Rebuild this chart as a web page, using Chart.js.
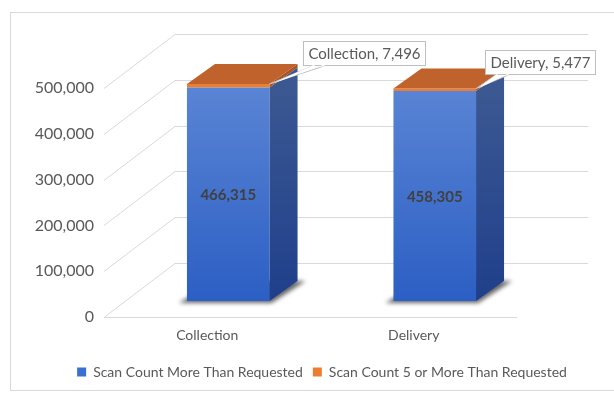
<!DOCTYPE html>
<html>
<head>
<meta charset="utf-8">
<script src="https://cdn.jsdelivr.net/npm/chart.js@4.4.1/dist/chart.umd.min.js"></script>
<style>
  html, body { margin: 0; padding: 0; background: #fff; }
  #wrap { width: 614px; height: 393px; }
</style>
</head>
<body>
<div id="wrap"><canvas id="scans"></canvas></div>
<script>
const categories = ['Collection', 'Delivery'];
const moreThanRequested = [466315, 458305];
const fiveOrMoreThanRequested = [7496, 5477];
const yTicks = [0, 100000, 200000, 300000, 400000, 500000];
const seriesNames = ['Scan Count More Than Requested', 'Scan Count 5 or More Than Requested'];

// fake 3d: how far back the walls go, where the bars sit in depth
const wallDepth = { x: 71, y: -54 };
const barShift = { x: 21, y: -16 };
const barDepth = { x: 28, y: -20 };
// callout boxes, relative to the top right corner of each bar
const calloutSpots = [{ dx: 33, dy: -43, a: 10, b: 22 }, { dx: 9, dy: -39, a: 11, b: 24 }];

const gray = '#595959';
const fmt = v => v.toLocaleString('en-US');

Chart.defaults.font.family = 'Lato';
Chart.defaults.font.size = 14;
Chart.defaults.color = gray;

const boxes3d = {
  id: 'boxes3d',
  beforeDraw(chart) {
    const ctx = chart.ctx;
    ctx.save();
    ctx.strokeStyle = '#d9d9d9';
    ctx.lineWidth = 1;
    ctx.strokeRect(10.5, 12.5, 700, 378);
    ctx.restore();
  },
  beforeDatasetsDraw(chart) {
    const { ctx, chartArea: area, scales: { y } } = chart;
    ctx.save();
    ctx.strokeStyle = '#d9d9d9';
    ctx.lineWidth = 1;
    yTicks.forEach(v => {
      const py = Math.round(y.getPixelForValue(v)) + 0.5;
      ctx.beginPath();
      ctx.moveTo(area.left, py);
      ctx.lineTo(area.left + wallDepth.x, py + wallDepth.y);
      ctx.lineTo(area.right + wallDepth.x, py + wallDepth.y);
      ctx.stroke();
    });
    const floor = Math.round(y.getPixelForValue(0)) + 0.5;
    ctx.beginPath();
    ctx.moveTo(area.left, floor);
    ctx.lineTo(area.right, floor);
    ctx.stroke();
    ctx.restore();

    // everything bar-related is drawn shifted back into the box
    ctx.save();
    ctx.translate(barShift.x, barShift.y);
    chart.getDatasetMeta(0).data.forEach(bar => {
      const l = bar.x - bar.width / 2, r = bar.x + bar.width / 2, b = bar.base;
      ctx.save();
      ctx.filter = 'blur(2px)';
      ctx.fillStyle = 'rgba(0,0,0,0.6)';
      ctx.beginPath();
      ctx.moveTo(l - 8, b + 2);
      ctx.lineTo(r + 2, b + 2);
      ctx.lineTo(r + barDepth.x + 8, b + barDepth.y);
      ctx.lineTo(l + barDepth.x, b + barDepth.y);
      ctx.closePath();
      ctx.fill();
      ctx.restore();
    });
  },
  afterDatasetsDraw(chart) {
    const ctx = chart.ctx;
    const blue = chart.getDatasetMeta(0).data;
    const orange = chart.getDatasetMeta(1).data;

    const side = (bar, fill) => {
      const r = bar.x + bar.width / 2;
      ctx.beginPath();
      ctx.moveTo(r, bar.y);
      ctx.lineTo(r + barDepth.x, bar.y + barDepth.y);
      ctx.lineTo(r + barDepth.x, bar.base + barDepth.y);
      ctx.lineTo(r, bar.base);
      ctx.closePath();
      ctx.fillStyle = fill;
      ctx.fill();
    };
    blue.forEach(bar => {
      const g = ctx.createLinearGradient(0, bar.y, 0, bar.base);
      g.addColorStop(0, '#3b5892');
      g.addColorStop(1, '#1f3f8b');
      side(bar, g);
    });
    orange.forEach(bar => side(bar, '#a9531f'));

    orange.forEach(bar => {
      const l = bar.x - bar.width / 2, r = bar.x + bar.width / 2;
      ctx.beginPath();
      ctx.moveTo(l, bar.y);
      ctx.lineTo(l + barDepth.x, bar.y + barDepth.y);
      ctx.lineTo(r + barDepth.x, bar.y + barDepth.y);
      ctx.lineTo(r, bar.y);
      ctx.closePath();
      ctx.fillStyle = '#c0622c';
      ctx.fill();
    });

    ctx.font = 'bold 15px Lato';
    ctx.textAlign = 'center';
    ctx.textBaseline = 'middle';
    ctx.fillStyle = '#404040';
    blue.forEach((bar, i) => ctx.fillText(fmt(moreThanRequested[i]), bar.x, (bar.y + bar.base) / 2 + 1));
    ctx.restore();

    // callouts for the thin orange slices
    ctx.save();
    ctx.font = '15px Lato';
    ctx.textAlign = 'center';
    ctx.textBaseline = 'middle';
    ctx.lineWidth = 1;
    orange.forEach((bar, i) => {
      const ax = bar.x + bar.width / 2 + barShift.x;
      const ay = bar.y + barShift.y;
      const spot = calloutSpots[i];
      const label = categories[i] + ', ' + fmt(fiveOrMoreThanRequested[i]);
      const w = Math.round(ctx.measureText(label).width) + 10;
      const h = 24;
      const bx = Math.round(ax + spot.dx) + 0.5;
      const by = Math.round(ay + spot.dy) + 0.5;
      const bb = by + h;

      ctx.fillStyle = '#fff';
      ctx.strokeStyle = '#bfbfbf';
      ctx.beginPath();
      ctx.moveTo(bx + spot.a, bb);
      ctx.lineTo(ax, ay);
      ctx.lineTo(bx + spot.b, bb);
      ctx.fill();
      ctx.stroke();
      ctx.fillRect(bx, by, w, h);
      ctx.strokeRect(bx, by, w, h);
      ctx.beginPath();
      ctx.moveTo(bx + spot.a + 1, bb - 1);
      ctx.lineTo(ax + 2, ay);
      ctx.lineTo(bx + spot.b - 1, bb - 1);
      ctx.lineTo(bx + spot.b - 1, bb + 1);
      ctx.lineTo(bx + spot.a + 1, bb + 1);
      ctx.fill();

      ctx.fillStyle = gray;
      ctx.fillText(label, bx + w / 2, by + h / 2 + 1);
    });
    ctx.restore();
  }
};

const scansChart = new Chart(document.getElementById('scans'), {
  type: 'bar',
  data: {
    labels: categories,
    datasets: [{
      label: seriesNames[0],
      data: moreThanRequested,
      backgroundColor: c => {
        const a = c.chart.chartArea;
        if (!a) return '#3a6fd4';
        const g = c.chart.ctx.createLinearGradient(0, a.top, 0, a.bottom);
        g.addColorStop(0, '#5d87d6');
        g.addColorStop(1, '#2c5fc4');
        return g;
      },
      categoryPercentage: 0.8,
      barPercentage: 0.5,
      clip: false
    }, {
      label: seriesNames[1],
      data: fiveOrMoreThanRequested,
      backgroundColor: '#ed7d31',
      categoryPercentage: 0.8,
      barPercentage: 0.5,
      clip: false
    }]
  },
  options: {
    responsive: true,
    maintainAspectRatio: false,
    animation: false,
    layout: { padding: { top: 88, left: 30, right: 0, bottom: 4 } },
    scales: {
      x: {
        stacked: true,
        grid: { display: false, drawTicks: false },
        border: { display: false },
        ticks: { color: gray, padding: 10 },
        afterFit: s => { s.height = 38; }
      },
      y: {
        stacked: true,
        min: 0,
        max: 500000,
        grid: { display: false, drawTicks: false },
        border: { display: false },
        ticks: { stepSize: 100000, color: gray, padding: 10, font: { size: 16 }, callback: v => fmt(v) },
        afterFit: s => { s.width = 74; }
      },
      side: {
        position: 'right',
        grid: { display: false },
        border: { display: false },
        ticks: { display: false },
        afterFit: s => { s.width = 97; }
      }
    },
    plugins: {
      tooltip: { enabled: false },
      legend: {
        position: 'bottom',
        labels: {
          boxWidth: 9,
          boxHeight: 9,
          padding: 10,
          generateLabels: () => seriesNames.map((t, i) => ({
            text: t,
            fillStyle: ['#3a6fd4', '#ed7d31'][i],
            strokeStyle: 'transparent',
            lineWidth: 0,
            fontColor: gray,
            datasetIndex: i
          }))
        }
      }
    }
  },
  plugins: [boxes3d]
});
</script>
</body>
</html>
